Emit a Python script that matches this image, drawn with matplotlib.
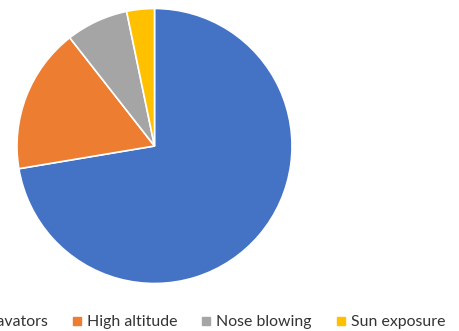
import matplotlib
matplotlib.use("Agg")
import matplotlib.pyplot as plt
from matplotlib.lines import Line2D

# slice counts
labels = ["No aggravators", "High altitude", "Nose blowing", "Sun exposure"]
counts = [89, 21, 9, 4]
colors = ["#4472C4", "#ED7D31", "#A5A5A5", "#FFC000"]

plt.rcParams['font.family'] = ['Lato', 'DejaVu Sans']

W, H = 459, 331
fig = plt.figure(figsize=(W / 100, H / 100), dpi=100)

# pie centre ~ (154.5, 146) px, radius ~137.5 px
cx, cy, r = 154.5, 146, 137.5
ax = fig.add_axes([(cx - r) / W, (H - cy - r) / H, 2 * r / W, 2 * r / H])
ax.pie(counts, colors=colors, startangle=90, counterclock=False,
       wedgeprops=dict(edgecolor="white", linewidth=1.2))
ax.set_xlim(-1, 1)
ax.set_ylim(-1, 1)
ax.axis("off")

handles = [Line2D([], [], marker="s", linestyle="none", markersize=5.5,
                  markerfacecolor=c, markeredgecolor=c) for c in colors]
fig.legend(handles, labels, ncol=4, loc="center right",
           bbox_to_anchor=(453 / W, 1 - 322 / H), frameon=False,
           fontsize=11.4, handlelength=0.55, handletextpad=0.35,
           columnspacing=1.55, borderpad=0, labelcolor="#333333")

fig.savefig("out.png", dpi=100)
